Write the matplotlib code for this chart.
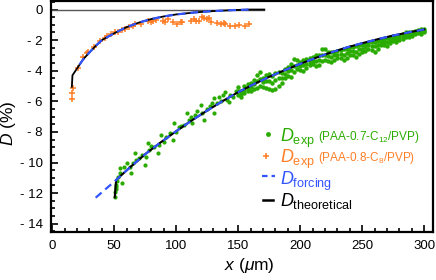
import numpy as np
import matplotlib
matplotlib.use('Agg')
import matplotlib.pyplot as plt
from matplotlib.ticker import MultipleLocator, FuncFormatter

plt.rcParams['font.family'] = ['Liberation Sans', 'DejaVu Sans']
plt.rcParams['mathtext.fontset'] = 'custom'
plt.rcParams['mathtext.rm'] = 'Liberation Sans'
plt.rcParams['mathtext.it'] = 'Liberation Sans:italic'
plt.rcParams['mathtext.bf'] = 'Liberation Sans:bold'

GREEN = '#2aab00'
ORANGE = '#ff7f27'
BLUE = '#3355ff'

# green data (PAA-0.7-C12/PVP), sparse part
gx_sparse = [50.4, 50.8, 51.2, 51.7, 52.0, 51.5, 53.0, 54.4, 56.3, 55.0, 58.0, 60.0,
             62.4, 63.7, 65.0, 66.4, 67.7, 70.0, 72.0, 74.4, 75.7, 77.0, 78.4, 80.0,
             82.0, 85.0, 86.4, 87.7, 90.4, 92.0, 95.0, 97.0, 98.4, 99.7, 102.0, 104.0,
             106.4, 108.7, 110.0, 111.7, 113.0, 115.0, 117.0, 119.7, 121.0, 122.4, 125.0, 127.0,
             128.5, 130.4, 130.4, 133.0, 134.4, 136.0, 138.0, 139.7, 141.0, 142.4, 143.7, 146.0,
             148.0]
gy_sparse = [-12.24, -11.9, -11.6, -11.47, -11.2, -11.75, -10.93, -10.38, -11.36, -10.7, -10.3, -10.0,
             -10.27, -10.71, -10.05, -9.4, -9.84, -9.7, -9.5, -10.16, -9.62, -8.75, -9.18, -8.9,
             -9.0, -9.4, -8.86, -8.2, -8.64, -8.3, -8.1, -8.53, -7.44, -7.99, -7.7, -7.6,
             -7.55, -6.78, -7.2, -7.0, -7.44, -6.9, -6.6, -6.24, -6.78, -7.22, -6.5, -6.3,
             -6.1, -5.8, -6.78, -6.13, -5.7, -5.95, -5.6, -5.37, -5.9, -6.02, -5.59, -5.7,
             -5.3]

# green data, dense band (150-300 um): upper, middle and lower edge
gx_band = [150, 152.5, 155, 157.5, 160, 162.5, 165, 167.5, 170, 172.5, 175, 177.5,
           180, 182.5, 185, 187.5, 190, 192.5, 195, 197.5, 200, 202.5, 205, 207.5,
           210, 212.5, 215, 217.5, 220, 222.5, 225, 227.5, 230, 232.5, 235, 237.5,
           240, 242.5, 245, 247.5, 250, 252.5, 255, 257.5, 260, 262.5, 265, 267.5,
           270, 272.5, 275, 277.5, 280, 282.5, 285, 287.5, 290, 292.5, 295, 297.5, 300]
gy_up = [-5.05, -5.35, -5.0, -4.85, -4.8, -4.6, -4.3, -4.1, -4.45, -4.3, -4.2, -4.35,
         -4.15, -4.1, -4.15, -3.9, -3.75, -3.55, -3.25, -3.3, -3.45, -3.3, -3.25, -3.2,
         -3.1, -3.0, -2.95, -2.6, -2.55, -2.8, -2.8, -2.75, -2.7, -2.65, -2.6, -2.55,
         -2.45, -2.45, -2.4, -2.35, -2.3, -2.25, -2.2, -2.15, -2.1, -2.05, -2.0, -1.95,
         -1.85, -1.8, -1.75, -1.7, -1.7, -1.6, -1.5, -1.45, -1.45, -1.4, -1.35, -1.25, -1.3]
gy_mid = [-5.3, -5.5, -5.25, -5.1, -5.05, -4.9, -4.7, -4.55, -4.75, -4.7, -4.7, -4.8,
          -4.6, -4.5, -4.45, -4.2, -4.05, -3.95, -3.7, -3.6, -3.7, -3.65, -3.55, -3.4,
          -3.35, -3.35, -3.3, -3.0, -2.95, -3.05, -3.1, -3.0, -2.95, -2.9, -2.95, -2.85,
          -2.7, -2.7, -2.75, -2.6, -2.55, -2.45, -2.35, -2.4, -2.4, -2.3, -2.15, -2.1,
          -2.1, -2.0, -1.9, -1.9, -1.85, -1.75, -1.65, -1.6, -1.55, -1.5, -1.45, -1.4, -1.4]
gy_low = [-5.6, -5.7, -5.45, -5.3, -5.3, -5.2, -5.1, -5.0, -5.05, -5.1, -5.2, -5.25,
          -5.2, -5.0, -4.8, -4.5, -4.35, -4.4, -4.1, -3.9, -3.95, -4.0, -3.8, -3.6,
          -3.55, -3.7, -3.6, -3.35, -3.3, -3.35, -3.4, -3.3, -3.2, -3.15, -3.3, -3.2,
          -3.0, -2.95, -3.1, -2.9, -2.8, -2.7, -2.55, -2.65, -2.75, -2.55, -2.35, -2.3,
          -2.4, -2.2, -2.05, -2.1, -2.0, -1.9, -1.8, -1.8, -1.7, -1.6, -1.55, -1.6, -1.5]

# orange data (PAA-0.8-C8/PVP)
ox = [15.7, 15.7, 16.5, 20.5, 25.0, 28.3, 29.0, 33.6, 38.4, 42.4, 43.8, 47.0, 50.4,
      53.0, 56.0, 58.4, 62.0, 65.0, 66.4, 71.7, 77.0, 79.7, 81.0, 83.7, 89.0, 91.0,
      93.0, 97.0, 101.0, 103.7, 105.0, 111.7, 114.4, 115.7, 118.4, 121.0, 122.4, 125.0,
      126.4, 127.7, 133.0, 135.7, 138.4, 139.7, 143.7, 147.7, 150.4, 155.7, 158.4]
oy = [-5.85, -5.48, -5.15, -3.84, -3.08, -2.86, -2.76, -2.47, -2.04, -1.88, -1.73, -1.62, -1.49,
      -1.45, -1.35, -1.27, -1.15, -1.08, -0.97, -0.95, -0.73, -0.8, -0.73, -0.69, -0.75, -0.8,
      -0.64, -0.8, -0.95, -0.84, -0.8, -0.73, -0.64, -0.73, -0.73, -0.51, -0.58, -0.64,
      -0.53, -0.8, -0.9, -0.95, -0.9, -0.95, -1.08, -1.06, -1.01, -1.08, -0.95]

# forcing curves
fgx = [35, 50, 62.5, 75, 87.5, 100, 112.5, 125, 137.5, 150, 162.5, 175, 187.5,
       200, 212.5, 225, 237.5, 250, 262.5, 275, 287.5, 300]
fgy = [-12.3, -11.25, -10.33, -9.45, -8.68, -7.95, -7.25, -6.6, -5.98, -5.4, -4.88, -4.4, -3.96,
       -3.55, -3.16, -2.8, -2.48, -2.2, -1.94, -1.7, -1.49, -1.3]
fox = [22, 25, 30, 35, 40, 50, 60, 70, 80, 90, 100, 115, 130, 145, 160]
foy = [-3.6, -3.25, -2.8, -2.38, -2.0, -1.55, -1.15, -0.85, -0.62, -0.45, -0.32, -0.19, -0.1, -0.04, 0.0]

# theoretical curves (start with the jump, then follow the forcing)
tgx = [50.4, 51.5] + fgx[2:]
tgy = [-12.27, -11.14] + fgy[2:]
tox = [15.8, 16.3, 20] + fox[1:] + [171]
toy = [-5.05, -4.3, -3.85] + foy[1:] + [0.0]
zero_x = [0, 171]
zero_y = [0, 0]

fig = plt.figure(figsize=(4.36, 2.80), dpi=100)
ax = fig.add_axes([0.117, 0.171, 0.876, 0.825])

ax.plot(zero_x, zero_y, color='#555555', lw=1.0)
ax.plot(gx_sparse, gy_sparse, 'o', color=GREEN, ms=3.0, mew=0)
for gy in (gy_up, gy_mid, gy_low):
    ax.plot(gx_band, gy, 'o', color=GREEN, ms=3.2, mew=0)
ax.plot(ox, oy, '+', color=ORANGE, ms=4, mew=1.1)
ax.plot(tgx, tgy, color='black', lw=1.5)
ax.plot(tox, toy, color='black', lw=1.3)
ax.plot(fgx, fgy, '--', color=BLUE, lw=1.6, dashes=(3.5, 2.2))
ax.plot(fox, foy, '--', color=BLUE, lw=1.6, dashes=(3.5, 2.2))

ax.set_xlim(-1, 307)
ax.set_ylim(-14.55, 0.55)
ax.xaxis.set_major_locator(MultipleLocator(50))
ax.xaxis.set_minor_locator(MultipleLocator(10))
ax.yaxis.set_major_locator(MultipleLocator(2))
ax.yaxis.set_minor_locator(MultipleLocator(0.5))
ax.yaxis.set_major_formatter(FuncFormatter(lambda v, p: '0' if abs(v) < 1e-9 else ('- %d' % abs(v) if v < 0 else '%d' % v)))
ax.tick_params(which='both', direction='in', top=False, right=False, labelsize=9.5, width=1.2)
ax.tick_params(axis='y', which='both', pad=6)
ax.tick_params(axis='x', which='both', pad=6)
ax.tick_params(which='major', length=5)
ax.tick_params(which='minor', length=3)
for s in ax.spines.values():
    s.set_linewidth(1.6)

ax.set_xlabel(r'$x$ ($\mu$m)', fontsize=12.5)
ax.set_ylabel(r'$D$ (%)', fontsize=12.5)
ax.xaxis.set_label_coords(0.52, -0.105)
ax.yaxis.set_label_coords(-0.086, 0.47)

# legend, drawn by hand
tr = ax.transAxes
ax.plot([0.568], [0.424], 'o', color=GREEN, ms=3.5, mew=0, transform=tr, clip_on=False)
ax.plot([0.564], [0.329], '+', color=ORANGE, ms=4, mew=1.1, transform=tr, clip_on=False)
ax.plot([0.552, 0.586], [0.244, 0.244], '--', color=BLUE, lw=1.6, dashes=(2.5, 1.8), transform=tr)
ax.plot([0.555, 0.582], [0.141, 0.141], color='black', lw=1.8, transform=tr)

ax.text(0.599, 0.392, r'$D_{\mathrm{exp}}$', color=GREEN, fontsize=13, transform=tr, va='baseline')
ax.text(0.698, 0.400, r'(PAA-0.7-C$_{12}$/PVP)', color=GREEN, fontsize=8.5, transform=tr, va='baseline')
ax.text(0.599, 0.299, r'$D_{\mathrm{exp}}$', color=ORANGE, fontsize=13, transform=tr, va='baseline')
ax.text(0.698, 0.307, r'(PAA-0.8-C$_{8}$/PVP)', color=ORANGE, fontsize=8.5, transform=tr, va='baseline')
ax.text(0.599, 0.205, r'$D_{\mathrm{forcing}}$', color=BLUE, fontsize=13, transform=tr, va='baseline')
ax.text(0.599, 0.113, r'$D_{\mathrm{theoretical}}$', color='black', fontsize=13, transform=tr, va='baseline')

fig.savefig('out.png', dpi=100)
